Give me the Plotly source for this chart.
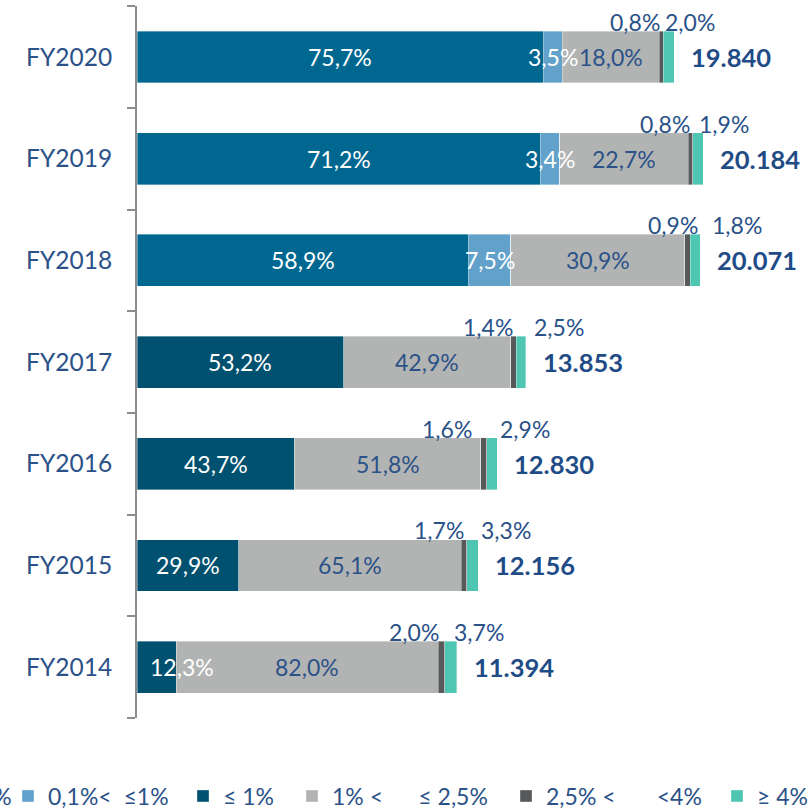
import plotly.graph_objects as go

# ---------------- data ----------------
years = ["FY2014", "FY2015", "FY2016", "FY2017", "FY2018", "FY2019", "FY2020"]
total_labels = ["11.394", "12.156", "12.830", "13.853", "20.071", "20.184", "19.840"]
# drawn bar lengths (FY2020 bar is drawn shorter than its label)
bar_length = [11394, 12156, 12830, 13853, 20071, 20184, 19140]

series_names = ["≤ 0,1%", "0,1%<  ≤1%", "≤ 1%", "1% <      ≤ 2,5%", "2,5% <       <4%", "≥ 4%"]
pct_le_01 = [None, None, None, None, 58.9, 71.2, 75.7]
pct_01_1 = [None, None, None, None, 7.5, 3.4, 3.5]
pct_le_1 = [12.3, 29.9, 43.7, 53.2, None, None, None]
pct_1_25 = [82.0, 65.1, 51.8, 42.9, 30.9, 22.7, 18.0]
pct_25_4 = [2.0, 1.7, 1.6, 1.4, 0.9, 0.8, 0.8]
pct_ge_4 = [3.7, 3.3, 2.9, 2.5, 1.8, 1.9, 2.0]

# ---------------- styles ----------------
series_pcts = [pct_le_01, pct_01_1, pct_le_1, pct_1_25, pct_25_4, pct_ge_4]
colors = ["#006791", "#62A1C9", "#00506F", "#B2B4B3", "#58595B", "#4FC6B1"]
label_colors = ["#FFFFFF", "#FFFFFF", "#FFFFFF", "#2B5288", None, None]
TEXT_BLUE = "#2B5288"
TOTAL_BLUE = "#1F4C86"
FONT = "Lato"
AXIS_GREY = "#8C8C8C"

# legend text start positions in pixels (layout), converted to paper below
legend_text_px = [-58, 48, 223, 332, 546, 757]
# small manual label nudges (pixels) as in the reference
label_nudge_px = {
    ("FY2014", 2): 25,
    ("FY2018", 4): 11, ("FY2016", 4): -12, ("FY2014", 4): -3,
    ("FY2020", 5): -12, ("FY2019", 5): -7, ("FY2018", 5): 9, ("FY2017", 5): 5,
    ("FY2014", 5): -6,
}

L, R, T, B = 137, 0, 6, 91
W, H = 808, 809
plot_w = W - L - R
plot_h = H - T - B
x_max = plot_w / 0.02806  # data units spanning the plot width


def fmt(v):
    return f"{v:.1f}".replace(".", ",") + "%"


fig = go.Figure()
for k, (name, pcts, col) in enumerate(zip(series_names, series_pcts, colors)):
    vals = [(p / 100.0 * t) if p is not None else 0 for p, t in zip(pcts, bar_length)]
    fig.add_trace(go.Bar(
        y=years, x=vals, orientation="h", name=name,
        marker=dict(color=col, line=dict(color="rgba(255,255,255,0.6)", width=0.6)),
        legend="legend" if k == 0 else f"legend{k + 1}",
        hoverinfo="skip",
    ))

annotations = []
for i, yr in enumerate(years):
    start = 0.0
    for k, pcts in enumerate(series_pcts):
        p = pcts[i]
        if p is None:
            continue
        w = p / 100.0 * bar_length[i]
        nudge = label_nudge_px.get((yr, k), 0)
        if k <= 3:
            annotations.append(dict(
                x=start + w / 2, y=yr, text=fmt(p), showarrow=False,
                xshift=nudge,
                font=dict(family=FONT, size=23, color=label_colors[k]),
            ))
        elif k == 4:
            annotations.append(dict(
                x=start + w, y=yr, text=fmt(p), showarrow=False,
                xanchor="right", xshift=-1 + nudge, yshift=35,
                font=dict(family=FONT, size=23, color=TEXT_BLUE),
            ))
        else:
            annotations.append(dict(
                x=start + w, y=yr, text=fmt(p), showarrow=False,
                xanchor="left", xshift=1 + nudge, yshift=35,
                font=dict(family=FONT, size=23, color=TEXT_BLUE),
            ))
        start += w
    annotations.append(dict(
        x=bar_length[i], y=yr, text=f"<b>{total_labels[i]}</b>", showarrow=False,
        xanchor="left", xshift=15,
        font=dict(family=FONT, size=25.5, color=TOTAL_BLUE),
    ))

legend_y = (T + plot_h - 796) / plot_h
layout_legends = {}
for k, tx in enumerate(legend_text_px):
    key = "legend" if k == 0 else f"legend{k + 1}"
    box_left = tx - 40
    layout_legends[key] = dict(
        orientation="h", x=(box_left - L) / plot_w, xanchor="left",
        y=legend_y, yanchor="middle", bgcolor="rgba(0,0,0,0)",
        font=dict(family=FONT, size=23, color=TEXT_BLUE),
        itemclick=False, itemdoubleclick=False,
    )

fig.update_layout(
    width=W, height=H,
    margin=dict(l=L, r=R, t=T, b=B, autoexpand=False),
    paper_bgcolor="white", plot_bgcolor="white",
    barmode="stack", bargap=0.49,
    showlegend=True,
    annotations=annotations,
    font=dict(family=FONT, color=TEXT_BLUE),
    xaxis=dict(range=[0, x_max], visible=False, fixedrange=True),
    yaxis=dict(
        type="category", categoryorder="array", categoryarray=years,
        showline=True, linecolor=AXIS_GREY, linewidth=2,
        ticks="outside", tickson="boundaries", ticklen=8, tickwidth=2, tickcolor=AXIS_GREY,
        tickfont=dict(family=FONT, size=24.5, color=TEXT_BLUE),
        ticklabelstandoff=18, showgrid=False, zeroline=False, fixedrange=True,
    ),
    **layout_legends,
)

fig.write_html(
    "out.html",
    config={"displayModeBar": False},
    post_script="document.body.style.margin='0';document.body.style.overflow='hidden';",
)
